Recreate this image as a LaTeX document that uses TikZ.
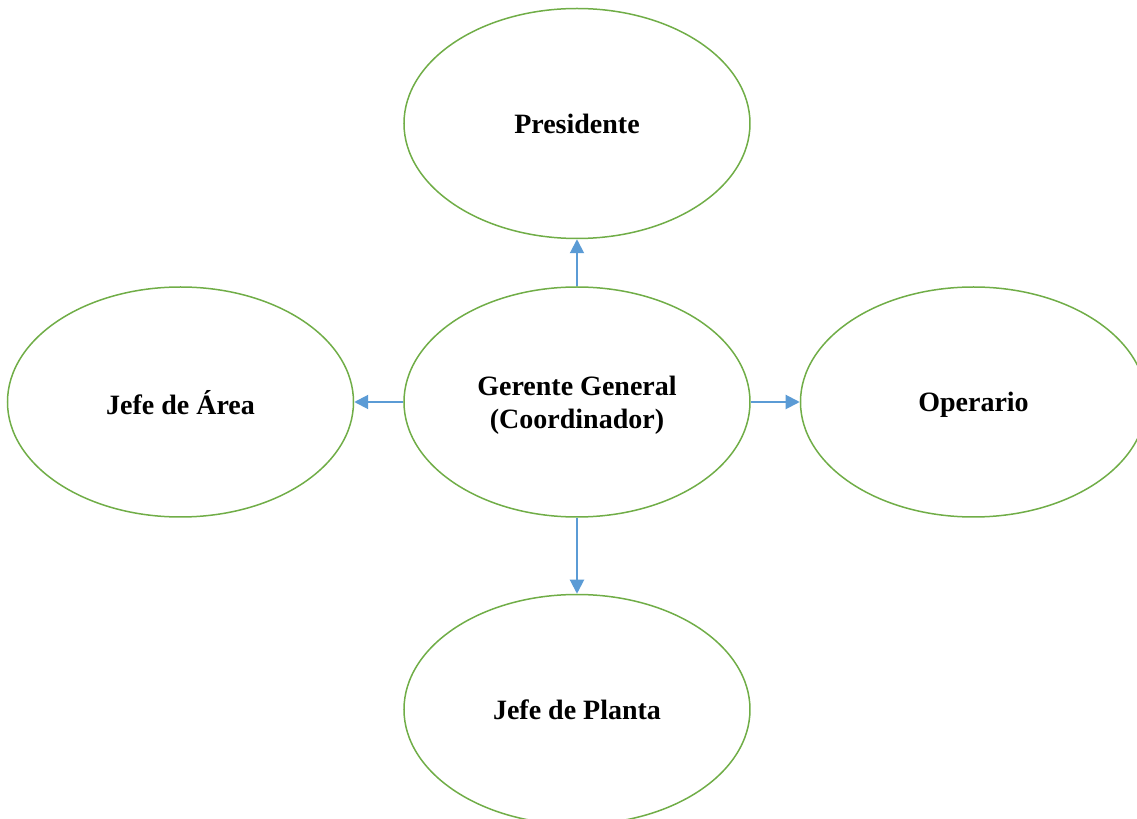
\documentclass[tikz,border=0pt]{standalone}
\usepackage{fontspec}
\setmainfont{Liberation Serif}
\usepackage{xcolor}
\usepackage{tikz}
\usetikzlibrary{positioning,arrows.meta,shapes.geometric}
\definecolor{rolegreen}{HTML}{70AD47}
\definecolor{linkblue}{HTML}{5B9BD5}
\tikzset{
  role/.style={draw=rolegreen, line width=0.75pt, ellipse, minimum width=173pt, minimum height=115pt, inner sep=0pt, text depth=0pt, align=center, font=\fontsize{14}{16.5}\selectfont\bfseries},
  arr/.style={draw=linkblue, line width=1pt, -{Triangle[length=7pt,width=7pt]}},
}

\begin{document}
\begin{tikzpicture}
\useasboundingbox (-288.5pt,-208.5pt) rectangle (280pt,201pt);
\clip (-288.5pt,-208.5pt) rectangle (280pt,201pt);
\node[role] (gg) {Gerente General\\(Coordinador)};
\node[role, above=23.5pt of gg] (pres) {Presidente};
\node[role, left=24.5pt of gg] (area) {Jefe de Área};
\node[role, right=24.5pt of gg] (oper) {Operario};
\node[role, below=38pt of gg] (planta) {Jefe de Planta};
\foreach \b in {pres,area,oper,planta} \draw[arr] (gg) -- (\b);
\end{tikzpicture}
\end{document}
